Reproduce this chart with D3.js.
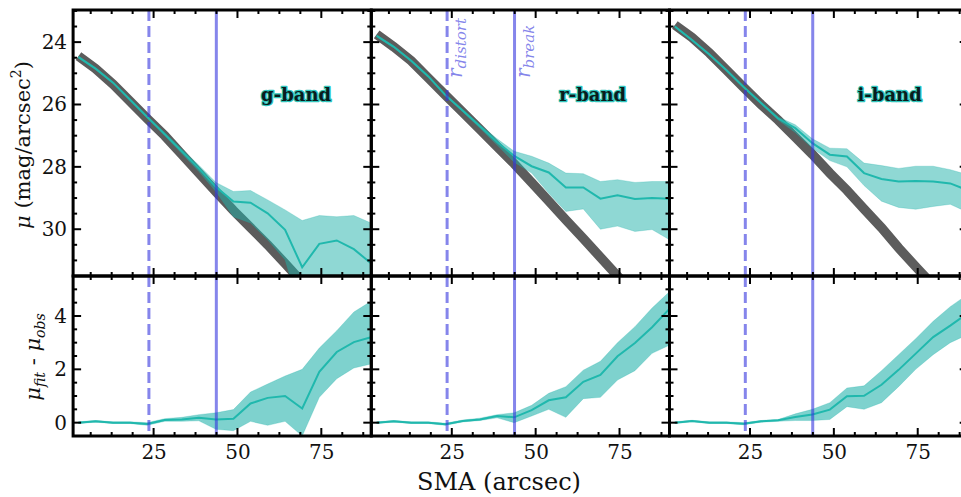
<!DOCTYPE html>
<html>
<head>
<meta charset="utf-8">
<script src="https://cdn.jsdelivr.net/npm/d3@7"></script>
<style>
  body { margin: 0; background: #fff; }
  text { font-family: "DejaVu Serif", serif; }
</style>
</head>
<body>
<svg id="chart" width="961" height="497"></svg>
<script>
// semi-major axis sampling (arcsec)
const sma = [2.6, 7.7, 12.9, 18.0, 23.1, 28.3, 33.4, 38.5, 43.6, 48.8, 53.9, 59.0, 64.2, 69.3, 74.4, 79.6, 84.7, 89.8];
const bandNames = ["g-band", "r-band", "i-band"];
const rDistort = 23.6;
const rBreak = 43.7;

// g band
const fitG = [24.45, 24.85, 25.35, 25.9, 26.45, 27.0, 27.6, 28.2, 28.8, 29.4, 29.95, 30.5, 31.1, 31.7, 32.3, 32.9, 33.5, 34.1];
const obsG = [24.48, 24.85, 25.3, 25.85, 26.4, 26.95, 27.5, 28.05, 28.65, 29.11, 29.15, 29.49, 30.02, 31.22, 30.47, 30.36, 30.64, 31.09];
const obsGHi = [24.45, 24.82, 25.27, 25.82, 26.37, 26.9, 27.43, 27.95, 28.5, 28.79, 28.76, 29.06, 29.38, 29.72, 29.56, 29.6, 29.56, 29.8];
const obsGLo = [24.51, 24.88, 25.33, 25.88, 26.43, 27.0, 27.57, 28.15, 28.8, 29.6, 29.8, 30.34, 30.98, 32.8, 31.9, 31.7, 31.8, 32.4];
const diffG = [0, 0.05, 0, 0, -0.05, 0.1, 0.12, 0.18, 0.12, 0.15, 0.72, 0.93, 1.0, 0.53, 1.91, 2.65, 3.02, 3.2];
const diffGHi = [0.03, 0.08, 0.03, 0.03, 0.0, 0.15, 0.2, 0.3, 0.37, 0.49, 1.15, 1.45, 1.75, 2.0, 2.8, 3.45, 4.15, 4.55];
const diffGLo = [-0.03, 0.02, -0.03, -0.03, -0.1, 0.05, 0.05, 0.07, -0.25, -0.3, 0.05, -0.1, 0.05, -0.5, 0.95, 1.65, 2.05, 2.2];

// r band
const fitR = [23.75, 24.15, 24.6, 25.15, 25.7, 26.25, 26.8, 27.35, 27.9, 28.5, 29.1, 29.7, 30.3, 30.9, 31.5, 32.1, 32.7, 33.3];
const obsR = [23.8, 24.15, 24.6, 25.1, 25.7, 26.2, 26.7, 27.2, 27.65, 27.98, 28.18, 28.66, 28.66, 29.02, 28.91, 29.03, 29.0, 29.02];
const obsRHi = [23.77, 24.12, 24.57, 25.07, 25.67, 26.16, 26.65, 27.1, 27.5, 27.66, 27.88, 28.2, 28.22, 28.47, 28.41, 28.5, 28.47, 28.47];
const obsRLo = [23.83, 24.18, 24.63, 25.13, 25.73, 26.24, 26.76, 27.3, 27.85, 28.2, 28.85, 29.43, 29.35, 30.0, 29.9, 30.07, 30.01, 30.33];
const diffR = [0, 0.05, 0, 0, -0.06, 0.06, 0.12, 0.25, 0.2, 0.47, 0.84, 0.95, 1.53, 1.79, 2.49, 2.99, 3.58, 4.26];
const diffRHi = [0.03, 0.08, 0.03, 0.03, -0.02, 0.1, 0.17, 0.3, 0.37, 0.65, 1.1, 1.35, 1.97, 2.3, 3.0, 3.6, 4.3, 4.9];
const diffRLo = [-0.03, 0.02, -0.03, -0.03, -0.1, 0.03, 0.08, 0.18, 0.0, 0.25, 0.5, 0.2, 0.9, 0.95, 1.6, 1.95, 2.6, 2.9];

// i band
const fitI = [23.45, 23.85, 24.35, 24.9, 25.45, 26.0, 26.5, 27.05, 27.6, 28.2, 28.75, 29.35, 29.95, 30.6, 31.2, 31.8, 32.4, 33.0];
const obsI = [23.5, 23.93, 24.4, 24.9, 25.44, 25.95, 26.45, 26.76, 27.24, 27.61, 27.67, 28.2, 28.39, 28.47, 28.45, 28.47, 28.53, 28.75];
const obsIHi = [23.47, 23.9, 24.37, 24.87, 25.41, 25.92, 26.4, 26.65, 27.1, 27.4, 27.42, 27.88, 27.96, 28.05, 27.98, 27.98, 28.09, 28.25];
const obsILo = [23.53, 23.96, 24.43, 24.93, 25.47, 25.98, 26.5, 26.9, 27.4, 27.8, 28.0, 28.6, 29.1, 29.3, 29.36, 29.27, 29.2, 29.45];
const diffI = [0, 0.06, 0, 0, -0.04, 0.05, 0.09, 0.21, 0.31, 0.49, 0.99, 1.01, 1.42, 1.98, 2.59, 3.21, 3.64, 4.1];
const diffIHi = [0.03, 0.09, 0.03, 0.03, 0.0, 0.08, 0.12, 0.33, 0.5, 0.75, 1.3, 1.38, 1.95, 2.55, 3.15, 3.8, 4.35, 4.8];
const diffILo = [-0.03, 0.03, -0.03, -0.03, -0.08, 0.02, 0.05, 0.08, 0.08, 0.12, 0.6, 0.5, 0.75, 1.35, 2.0, 2.55, 3.0, 3.3];

const xMajor = [25, 50, 75];
const yTopMajor = [24, 26, 28, 30];
const yBotMajor = [0, 2, 4];

const panels = [
  { name: bandNames[0], fit: fitG, obs: obsG, hi: obsGHi, lo: obsGLo, d: diffG, dHi: diffGHi, dLo: diffGLo },
  { name: bandNames[1], fit: fitR, obs: obsR, hi: obsRHi, lo: obsRLo, d: diffR, dHi: diffRHi, dLo: diffRLo },
  { name: bandNames[2], fit: fitI, obs: obsI, hi: obsIHi, lo: obsILo, d: diffI, dHi: diffIHi, dLo: diffILo }
];

const svg = d3.select("#chart");
const left0 = 73.1, panelW = 298.2;
const top0 = 10, mid = 276, bot0 = 436;

const teal = "#20b8ad", bandCol = "#20b2aa", vcol = "#3333dd";

const x = d3.scaleLinear().domain([1.0, 89.9]).range([0, panelW]);
const yTop = d3.scaleLinear().domain([22.97, 31.5]).range([top0, mid]);
const yBot = d3.scaleLinear().domain([-0.5, 5.5]).range([bot0, mid]);

const xMinor = d3.range(6.25, 89.9, 6.25).filter(v => !xMajor.includes(v));
const yTopMinor = d3.range(23, 31.51, 0.5).filter(v => !yTopMajor.includes(v));
const yBotMinor = d3.range(-0.5, 5.51, 0.5).filter(v => !yBotMajor.includes(v));

const defs = svg.append("defs");
defs.append("clipPath").attr("id", "clipTop").append("rect")
  .attr("x", 0).attr("y", top0).attr("width", panelW).attr("height", mid - top0);
defs.append("clipPath").attr("id", "clipBot").append("rect")
  .attr("x", 0).attr("y", mid).attr("width", panelW).attr("height", bot0 - mid);

// inward tick marks on one edge
function tickMarks(g, vals, len, horiz, pos, dir, scale) {
  g.append("g").selectAll("line").data(vals).join("line")
    .attr("x1", d => horiz ? scale(d) : pos)
    .attr("x2", d => horiz ? scale(d) : pos + dir * len)
    .attr("y1", d => horiz ? pos : scale(d))
    .attr("y2", d => horiz ? pos + dir * len : scale(d))
    .attr("stroke", "#000").attr("stroke-width", 2);
}

// tick labels through d3 axes (marks drawn separately)
function labels(g, axis, values, tx, ty) {
  const a = g.append("g").attr("transform", `translate(${tx},${ty})`)
    .call(axis.tickValues(values).tickSize(0).tickPadding(0).tickFormat(d3.format("d")));
  a.select(".domain").remove();
  a.selectAll(".tick line").remove();
  a.selectAll(".tick text").attr("font-size", 20).attr("fill", "#111")
    .style("font-family", "'DejaVu Serif', serif");
  return a;
}

panels.forEach((p, i) => {
  const g = svg.append("g").attr("transform", `translate(${left0 + i * panelW},0)`);

  // ---- top: surface brightness ----
  const gt = g.append("g").attr("clip-path", "url(#clipTop)");
  gt.append("path")
    .attr("d", d3.line().x((d, k) => x(sma[k])).y(d => yTop(d))(p.fit))
    .attr("fill", "none").attr("stroke", "#5c5c5c").attr("stroke-width", 9.5);
  gt.append("path")
    .attr("d", d3.area().x((d, k) => x(sma[k])).y0((d, k) => yTop(p.lo[k])).y1(d => yTop(d))(p.hi))
    .attr("fill", bandCol).attr("fill-opacity", 0.5)
    .attr("stroke", bandCol).attr("stroke-opacity", 0.25).attr("stroke-width", 1);
  gt.append("path")
    .attr("d", d3.line().x((d, k) => x(sma[k])).y(d => yTop(d))(p.obs))
    .attr("fill", "none").attr("stroke", teal).attr("stroke-width", 2);
  gt.append("line").attr("x1", x(rDistort)).attr("x2", x(rDistort)).attr("y1", top0).attr("y2", mid)
    .attr("stroke", vcol).attr("stroke-opacity", 0.6).attr("stroke-width", 3).attr("stroke-dasharray", "11,5");
  gt.append("line").attr("x1", x(rBreak)).attr("x2", x(rBreak)).attr("y1", top0).attr("y2", mid)
    .attr("stroke", vcol).attr("stroke-opacity", 0.6).attr("stroke-width", 3);

  g.append("text").attr("x", 188).attr("y", 100.5).text(p.name)
    .attr("font-size", 18).attr("font-weight", "bold")
    .attr("fill", "#0a1c1c").attr("stroke", "#30c6bc").attr("stroke-width", 2.5)
    .attr("paint-order", "stroke").attr("stroke-linejoin", "round");

  // ---- bottom: residuals ----
  const gb = g.append("g").attr("clip-path", "url(#clipBot)");
  gb.append("path")
    .attr("d", d3.area().x((d, k) => x(sma[k])).y0((d, k) => yBot(p.dLo[k])).y1(d => yBot(d))(p.dHi))
    .attr("fill", bandCol).attr("fill-opacity", 0.58)
    .attr("stroke", bandCol).attr("stroke-opacity", 0.25).attr("stroke-width", 1);
  gb.append("path")
    .attr("d", d3.line().x((d, k) => x(sma[k])).y(d => yBot(d))(p.d))
    .attr("fill", "none").attr("stroke", teal).attr("stroke-width", 2);
  gb.append("line").attr("x1", x(rDistort)).attr("x2", x(rDistort)).attr("y1", mid).attr("y2", bot0)
    .attr("stroke", vcol).attr("stroke-opacity", 0.6).attr("stroke-width", 3).attr("stroke-dasharray", "11,5");
  gb.append("line").attr("x1", x(rBreak)).attr("x2", x(rBreak)).attr("y1", mid).attr("y2", bot0)
    .attr("stroke", vcol).attr("stroke-opacity", 0.6).attr("stroke-width", 3);

  // ---- ticks (inward, all four sides) ----
  [[top0, mid, yTop, yTopMajor, yTopMinor], [mid, bot0, yBot, yBotMajor, yBotMinor]].forEach(([ya, yb, ys, maj, mnr], r) => {
    tickMarks(g, xMajor, 8, true, ya, 1, x);
    tickMarks(g, xMinor, 4, true, ya, 1, x);
    tickMarks(g, xMajor, 8, true, yb, -1, x);
    tickMarks(g, xMinor, 4, true, yb, -1, x);
    tickMarks(g, maj, 8, false, 0, 1, ys);
    tickMarks(g, mnr, 4, false, 0, 1, ys);
    tickMarks(g, maj, 8, false, panelW, -1, ys);
    tickMarks(g, mnr, 4, false, panelW, -1, ys);
    if (i === 0) labels(g, d3.axisLeft(ys), maj, -6, 0);
  });
  labels(g, d3.axisBottom(x), xMajor, 0, bot0 + 9);

  g.append("rect").attr("x", 0).attr("y", top0).attr("width", panelW).attr("height", mid - top0)
    .attr("fill", "none").attr("stroke", "#000").attr("stroke-width", 3);
  g.append("rect").attr("x", 0).attr("y", mid).attr("width", panelW).attr("height", bot0 - mid)
    .attr("fill", "none").attr("stroke", "#000").attr("stroke-width", 3);

  if (i === 1) {
    const lbl = (xv, sub, dx) => {
      const t = g.append("text")
        .attr("transform", `translate(${x(xv) + dx},78) rotate(-90)`)
        .attr("font-size", 20).attr("font-style", "italic")
        .attr("fill", vcol).attr("fill-opacity", 0.6);
      t.append("tspan").text("r");
      t.append("tspan").attr("font-size", 15).attr("dy", 4).text(sub);
    };
    lbl(rDistort, "distort", 15);
    lbl(rBreak, "break", 15);
  }
});

// axis titles
const yl1 = svg.append("text").attr("transform", "translate(30,145) rotate(-90)")
  .attr("text-anchor", "middle").attr("font-size", 21).attr("fill", "#111");
yl1.append("tspan").attr("font-style", "italic").text("μ");
yl1.append("tspan").text(" (mag/arcsec");
yl1.append("tspan").attr("font-size", 14).attr("dy", -9).text("2");
yl1.append("tspan").attr("dy", 9).text(")");

const yl2 = svg.append("text").attr("transform", "translate(40,357) rotate(-90)")
  .attr("text-anchor", "middle").attr("font-size", 21).attr("fill", "#111").attr("font-style", "italic");
yl2.append("tspan").text("μ");
yl2.append("tspan").attr("font-size", 14).attr("dy", 5).text("fit");
yl2.append("tspan").attr("dy", -5).attr("font-style", "normal").text(" - ");
yl2.append("tspan").text("μ");
yl2.append("tspan").attr("font-size", 14).attr("dy", 5).text("obs");

svg.append("text").attr("x", 499).attr("y", 490).attr("text-anchor", "middle")
  .attr("font-size", 24).attr("fill", "#111").text("SMA (arcsec)");
</script>
</body>
</html>
